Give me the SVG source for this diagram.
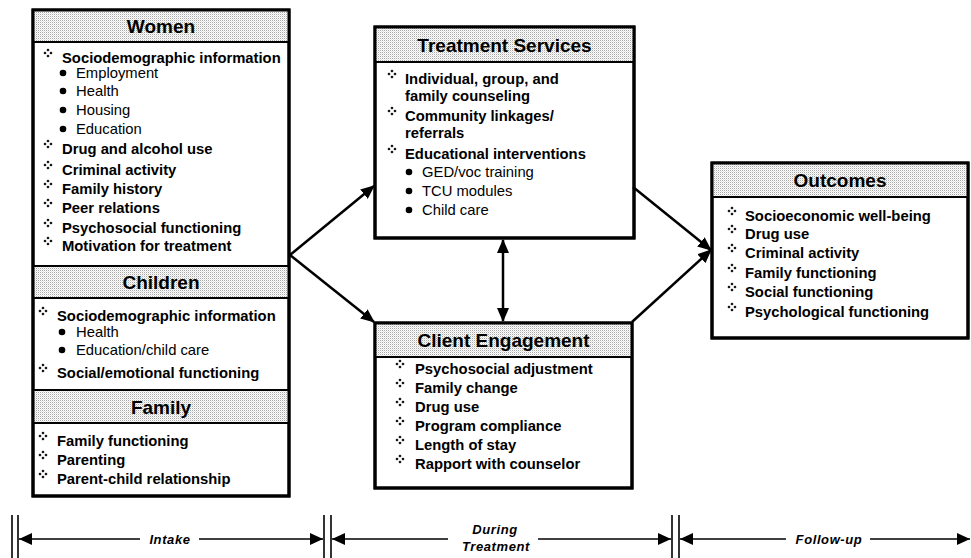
<svg xmlns="http://www.w3.org/2000/svg" xmlns:xlink="http://www.w3.org/1999/xlink" width="971" height="558" viewBox="0 0 971 558">
<defs>
<pattern id="dots" width="2" height="2" patternUnits="userSpaceOnUse">
<rect width="2" height="2" fill="#ffffff"/>
<rect width="1" height="1" fill="#a8a8a8"/>
<rect x="1" y="1" width="1" height="1" fill="#e2e2e2"/>
</pattern>
<g id="dia">
<path d="M0,-4.6 L1.6,-3 L0,-1.4 L-1.6,-3Z M0,4.6 L1.6,3 L0,1.4 L-1.6,3Z M-4.6,0 L-3,-1.6 L-1.4,0 L-3,1.6Z M4.6,0 L3,-1.6 L1.4,0 L3,1.6Z" fill="#000"/>
</g>
<marker id="ah" viewBox="0 0 14 12" refX="13" refY="6" markerWidth="14" markerHeight="12" markerUnits="userSpaceOnUse" orient="auto-start-reverse">
<path d="M0,0 L14,6 L0,12 Z" fill="#000"/>
</marker>
<marker id="th" viewBox="0 0 13 12" refX="13" refY="6" markerWidth="13" markerHeight="12" markerUnits="userSpaceOnUse" orient="auto-start-reverse">
<path d="M0,0 L13,6 L0,12 Z" fill="#000"/>
</marker>
</defs>
<style>
.box{fill:#fff;stroke:#000;stroke-width:3}
.hdr{fill:url(#dots);stroke:#000;stroke-width:2}
.ht{font-family:"Liberation Sans",Arial,sans-serif;font-weight:bold;font-size:19px;text-anchor:middle;fill:#000}
.it{font-family:"Liberation Sans",Arial,sans-serif;font-weight:bold;font-size:14.8px;fill:#000}
.sub{font-family:"Liberation Sans",Arial,sans-serif;font-size:14.8px;fill:#000}
.tl{font-family:"Liberation Sans",Arial,sans-serif;font-weight:bold;font-style:italic;font-size:13px;letter-spacing:0.6px;fill:#000}
.con{stroke:#000;stroke-width:2.5;fill:none}
.tline{stroke:#000;stroke-width:1.4;fill:none}
.vline{stroke:#000;stroke-width:1.6;fill:none}
</style>
<rect width="971" height="558" fill="#fff"/>

<g id="left-box">
<rect class="box" x="33" y="10" width="256" height="486"/>
<rect class="hdr" x="33" y="10" width="256" height="32"/>
<rect class="hdr" x="33" y="266" width="256" height="32"/>
<rect class="hdr" x="33" y="390" width="256" height="33"/>
<rect x="33" y="10" width="256" height="486" fill="none" stroke="#000" stroke-width="3"/>
</g>

<g id="women">
<text class="ht" x="161" y="33">Women</text>
<use xlink:href="#dia" x="48" y="53"/><text class="it" x="62" y="63">Sociodemographic information</text>
<circle cx="63" cy="73" r="3.3"/><text class="sub" x="76" y="78">Employment</text>
<circle cx="63" cy="91" r="3.3"/><text class="sub" x="76" y="96">Health</text>
<circle cx="63" cy="110" r="3.3"/><text class="sub" x="76" y="115">Housing</text>
<circle cx="63" cy="129" r="3.3"/><text class="sub" x="76" y="134">Education</text>
<use xlink:href="#dia" x="48" y="144"/><text class="it" x="62" y="154">Drug and alcohol use</text>
<use xlink:href="#dia" x="48" y="165"/><text class="it" x="62" y="175">Criminal activity</text>
<use xlink:href="#dia" x="48" y="184"/><text class="it" x="62" y="194">Family history</text>
<use xlink:href="#dia" x="48" y="203"/><text class="it" x="62" y="213">Peer relations</text>
<use xlink:href="#dia" x="48" y="223"/><text class="it" x="62" y="233">Psychosocial functioning</text>
<use xlink:href="#dia" x="48" y="241"/><text class="it" x="62" y="251">Motivation for treatment</text>
</g>

<g id="children">
<text class="ht" x="161" y="289">Children</text>
<use xlink:href="#dia" x="43" y="311"/><text class="it" x="57" y="321">Sociodemographic information</text>
<circle cx="62" cy="332" r="3.3"/><text class="sub" x="76" y="337">Health</text>
<circle cx="62" cy="350" r="3.3"/><text class="sub" x="76" y="355">Education/child care</text>
<use xlink:href="#dia" x="43" y="368"/><text class="it" x="57" y="378">Social/emotional functioning</text>
</g>

<g id="family">
<text class="ht" x="161" y="414">Family</text>
<use xlink:href="#dia" x="43" y="436"/><text class="it" x="57" y="446">Family functioning</text>
<use xlink:href="#dia" x="43" y="455"/><text class="it" x="57" y="465">Parenting</text>
<use xlink:href="#dia" x="43" y="474"/><text class="it" x="57" y="484">Parent-child relationship</text>
</g>

<g id="treatment-services">
<rect class="box" x="375" y="27" width="259" height="211"/>
<rect class="hdr" x="375" y="27" width="259" height="35"/>
<rect x="375" y="27" width="259" height="211" fill="none" stroke="#000" stroke-width="3"/>
<text class="ht" x="504.5" y="52">Treatment Services</text>
<use xlink:href="#dia" x="392" y="74"/><text class="it" x="405" y="84">Individual, group, and</text>
<text class="it" x="405" y="101">family counseling</text>
<use xlink:href="#dia" x="392" y="111"/><text class="it" x="405" y="121">Community linkages/</text>
<text class="it" x="405" y="138">referrals</text>
<use xlink:href="#dia" x="392" y="149"/><text class="it" x="405" y="159">Educational interventions</text>
<circle cx="409" cy="172" r="3.3"/><text class="sub" x="422" y="177">GED/voc training</text>
<circle cx="409" cy="191" r="3.3"/><text class="sub" x="422" y="196">TCU modules</text>
<circle cx="409" cy="210" r="3.3"/><text class="sub" x="422" y="215">Child care</text>
</g>

<g id="client-engagement">
<rect class="box" x="375" y="323" width="257" height="165"/>
<rect class="hdr" x="375" y="323" width="257" height="34"/>
<rect x="375" y="323" width="257" height="165" fill="none" stroke="#000" stroke-width="3"/>
<text class="ht" x="503.5" y="347">Client Engagement</text>
<use xlink:href="#dia" x="400" y="364"/><text class="it" x="415" y="374">Psychosocial adjustment</text>
<use xlink:href="#dia" x="400" y="383"/><text class="it" x="415" y="393">Family change</text>
<use xlink:href="#dia" x="400" y="402"/><text class="it" x="415" y="412">Drug use</text>
<use xlink:href="#dia" x="400" y="421"/><text class="it" x="415" y="431">Program compliance</text>
<use xlink:href="#dia" x="400" y="440"/><text class="it" x="415" y="450">Length of stay</text>
<use xlink:href="#dia" x="400" y="459"/><text class="it" x="415" y="469">Rapport with counselor</text>
</g>

<g id="outcomes">
<rect class="box" x="712" y="163" width="256" height="175"/>
<rect class="hdr" x="712" y="163" width="256" height="34"/>
<rect x="712" y="163" width="256" height="175" fill="none" stroke="#000" stroke-width="3"/>
<text class="ht" x="840" y="187">Outcomes</text>
<use xlink:href="#dia" x="732" y="211"/><text class="it" x="745" y="221">Socioeconomic well-being</text>
<use xlink:href="#dia" x="732" y="229"/><text class="it" x="745" y="239">Drug use</text>
<use xlink:href="#dia" x="732" y="248"/><text class="it" x="745" y="258">Criminal activity</text>
<use xlink:href="#dia" x="732" y="268"/><text class="it" x="745" y="278">Family functioning</text>
<use xlink:href="#dia" x="732" y="287"/><text class="it" x="745" y="297">Social functioning</text>
<use xlink:href="#dia" x="732" y="307"/><text class="it" x="745" y="317">Psychological functioning</text>
</g>

<g id="connectors">
<line class="con" x1="290" y1="255" x2="374" y2="186" marker-end="url(#ah)"/>
<line class="con" x1="290" y1="255" x2="374" y2="322" marker-end="url(#ah)"/>
<line class="con" x1="633" y1="187" x2="711" y2="250" marker-end="url(#ah)"/>
<line class="con" x1="632" y1="322" x2="711" y2="250" marker-end="url(#ah)"/>
<line class="con" x1="503" y1="240" x2="503" y2="321" marker-start="url(#ah)" marker-end="url(#ah)"/>
</g>

<g id="timeline">
<line class="vline" x1="12" y1="515" x2="12" y2="558"/>
<line class="vline" x1="18" y1="515" x2="18" y2="558"/>
<line class="vline" x1="324" y1="515" x2="324" y2="558"/>
<line class="vline" x1="331" y1="515" x2="331" y2="558"/>
<line class="vline" x1="672" y1="515" x2="672" y2="558"/>
<line class="vline" x1="679" y1="515" x2="679" y2="558"/>
<line class="tline" x1="140" y1="539" x2="19" y2="539" marker-end="url(#th)"/>
<line class="tline" x1="199" y1="539" x2="323" y2="539" marker-end="url(#th)"/>
<line class="tline" x1="448" y1="539" x2="332" y2="539" marker-end="url(#th)"/>
<line class="tline" x1="538" y1="539" x2="671" y2="539" marker-end="url(#th)"/>
<line class="tline" x1="786" y1="539" x2="680" y2="539" marker-end="url(#th)"/>
<line class="tline" x1="870" y1="539" x2="970" y2="539" marker-end="url(#th)"/>
<text class="tl" x="170" y="544" text-anchor="middle">Intake</text>
<text class="tl" x="495" y="534" text-anchor="middle">During</text>
<text class="tl" x="496" y="551" text-anchor="middle">Treatment</text>
<text class="tl" x="829" y="544" text-anchor="middle">Follow-up</text>
</g>
</svg>
